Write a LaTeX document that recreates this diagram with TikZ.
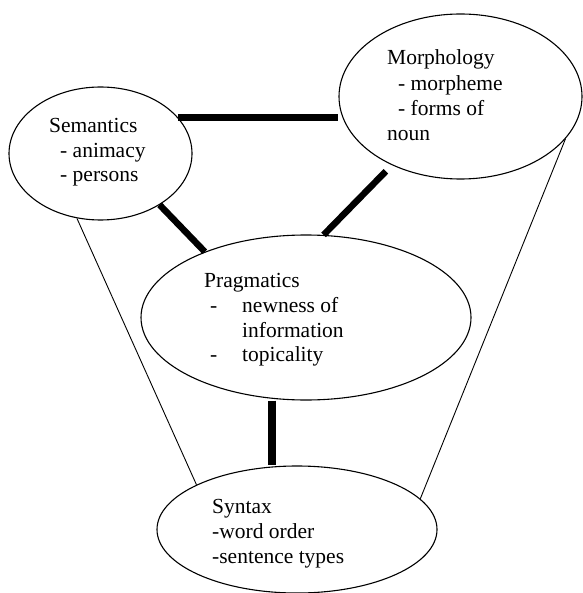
\documentclass[tikz,border=0pt]{standalone}
\usepackage{fontspec}
\setmainfont{Liberation Serif}
\usetikzlibrary{shapes.geometric}
\begin{document}
\begin{tikzpicture}[x=1pt,y=-1pt,
  oval/.style={ellipse,draw,line width=1.1pt,inner sep=0pt},
  txt/.style={anchor=base west,inner sep=0pt,font=\fontsize{21.5}{25}\selectfont},
  heavy/.style={line width=6.5pt},
  thin/.style={line width=0.9pt}]
\useasboundingbox (0,0) rectangle (582,593);
\node[oval,minimum width=183pt,minimum height=133pt] (sem) at (100.5,153.5) {};
\node[oval,minimum width=243pt,minimum height=165pt] (mor) at (460.5,96.5) {};
\node[oval,minimum width=330pt,minimum height=165pt] (pra) at (306,317.5) {};
\node[oval,minimum width=280pt,minimum height=127pt] (syn) at (297,529.5) {};
% texts
\node[txt] (t1) at (49,133) {Semantics};
\node[txt] (t2) at (60,158) {- animacy};
\node[txt] (t3) at (60,182) {- persons};
\node[txt] (t4) at (387,65) {Morphology};
\node[txt] (t5) at (398,91) {- morpheme};
\node[txt] (t6) at (398,116) {- forms of};
\node[txt] (t7) at (387,141) {noun};
\node[txt] (t8) at (204,287) {Pragmatics};
\node[txt] (t9) at (210,312) {-};
\node[txt] (t10) at (242,312) {newness of};
\node[txt] (t11) at (242,337) {information};
\node[txt] (t12) at (210,361) {-};
\node[txt] (t13) at (242,361) {topicality};
\node[txt] (t14) at (212,513) {Syntax};
\node[txt] (t15) at (212,538) {-word order};
\node[txt] (t16) at (212,563) {-sentence types};
% connectors
\draw[heavy] (sem.25) -- (mor.west |- sem.25);
\draw[heavy] (sem.-41) -- (pra.147);
\draw[heavy,shorten >=8.5pt] (pra.78) -- (mor.225);
\draw[line width=8pt] (pra.south -| 272,0) -- (syn.north -| 272,0);
\draw[thin] (sem.-110) -- (syn.156);
\draw[thin] (mor.-22) -- (syn.14);
\end{tikzpicture}
\end{document}
